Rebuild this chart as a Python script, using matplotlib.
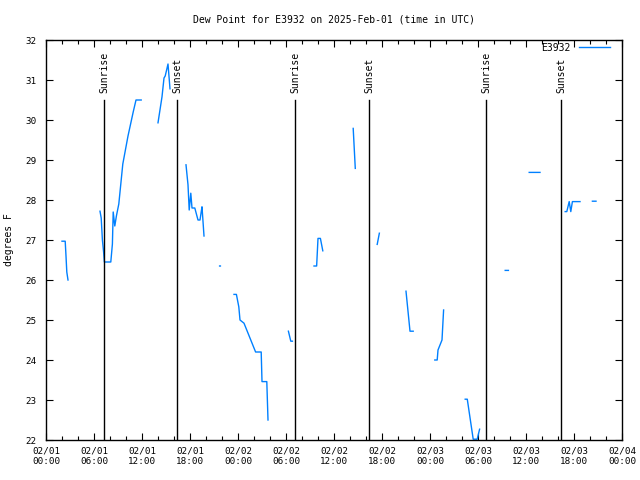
import numpy as np
import pandas as pd
import matplotlib
matplotlib.use("Agg")
import matplotlib.pyplot as plt
import matplotlib.dates as mdates

nan = np.nan
# hours since 2025-02-01 00:00 UTC; NaN separates gaps
hours = [2.0, 2.4, 2.5, 2.6, 2.75, nan,
         6.75, 6.9, 7.05, 7.2, 7.3, 8.1, 8.3, 8.4, 8.6, 8.8, 9.1, 9.6, 10.25, 10.9, 11.25, 11.9, nan,
         14.0, 14.5, 14.75, 14.9, 15.1, 15.25, 15.5, nan,
         17.5, 17.75, 17.9, 18.1, 18.25, 18.6, 19.0, 19.25, 19.4, 19.5, 19.75, nan,
         21.7, 21.8, nan,
         23.5, 23.8, 24.1, 24.25, 24.75, 26.2, 26.9, 27.0, 27.6, 27.75, nan,
         30.3, 30.6, 30.8, nan,
         33.5, 33.83, 34.0, 34.3, 34.6, nan,
         38.4, 38.66, nan,
         41.4, 41.67, nan,
         45.0, 45.5, 45.9, nan,
         48.6, 48.9, 49.0, 49.5, 49.7, nan,
         52.4, 52.66, 53.4, 53.9, 54.2, nan,
         57.4, 57.8, nan,
         60.4, 61.75, nan,
         64.9, 65.1, 65.4, 65.6, 65.8, 66.75, nan,
         68.3, 68.75]
dewpt = [26.97, 26.97, 26.6, 26.2, 26.0, nan,
         27.72, 27.55, 27.0, 26.7, 26.45, 26.45, 26.9, 27.7, 27.35, 27.6, 27.9, 28.9, 29.6, 30.2, 30.5, 30.5, nan,
         29.93, 30.58, 31.05, 31.1, 31.27, 31.4, 30.78, nan,
         28.88, 28.38, 27.75, 28.17, 27.8, 27.8, 27.5, 27.5, 27.7, 27.83, 27.1, nan,
         26.35, 26.35, nan,
         25.64, 25.64, 25.33, 25.0, 24.92, 24.2, 24.2, 23.46, 23.46, 22.5, nan,
         24.72, 24.47, 24.47, nan,
         26.35, 26.35, 27.04, 27.04, 26.73, nan,
         29.79, 28.79, nan,
         26.89, 27.17, nan,
         25.72, 24.72, 24.72, nan,
         24.0, 24.0, 24.25, 24.5, 25.25, nan,
         23.02, 23.02, 22.02, 22.02, 22.27, nan,
         26.24, 26.24, nan,
         28.69, 28.69, nan,
         27.71, 27.71, 27.96, 27.71, 27.96, 27.96, nan,
         27.97, 27.97]
sun_hours = [7.28, 16.42, 31.17, 40.42, 55.05, 64.42]
sun_labels = ["Sunrise", "Sunset", "Sunrise", "Sunset", "Sunrise", "Sunset"]

base = pd.Timestamp("2025-02-01 00:00")
x = pd.to_datetime(pd.Series([base + pd.Timedelta(hours=h) if not np.isnan(h) else pd.NaT
                              for h in hours]))
y = np.array(dewpt, dtype=float)

mono = "DejaVu Sans Mono"
fig = plt.figure(figsize=(6.4, 4.8), dpi=100)
ax = fig.add_axes([46/640, 1-440/480, 576/640, 400/480])

ax.plot(x, y, color="#0080ff", lw=1.0, label="E3932")

for h, lab in zip(sun_hours, sun_labels):
    t = base + pd.Timedelta(hours=h)
    ax.plot([t, t], [22, 30.5], color="black", lw=1.0)
    ax.text(t, 30.68, lab, rotation=90, ha="center", va="bottom", fontsize=7, family=mono)

ax.set_xlim(base, base + pd.Timedelta(hours=72))
ax.set_ylim(22, 32)
ax.set_yticks(np.arange(22, 33, 1))
ax.xaxis.set_major_locator(mdates.HourLocator(byhour=[0, 6, 12, 18]))
ax.xaxis.set_minor_locator(mdates.HourLocator(byhour=range(0, 24, 2)))
ax.xaxis.set_major_formatter(mdates.DateFormatter("%m/%d\n%H:%M"))
ax.tick_params(which="both", direction="in", top=True, right=True, labelsize=6.7)
ax.tick_params(which="major", length=5, width=0.8)
ax.tick_params(which="minor", length=3, width=0.8)
ax.tick_params(axis="y", pad=7)
ax.tick_params(axis="x", pad=5)
for lab in ax.get_xticklabels() + ax.get_yticklabels():
    lab.set_family(mono)
for s in ax.spines.values():
    s.set_linewidth(1.0)

ax.set_ylabel("degrees F", fontsize=7, family=mono, labelpad=8)
fig.text(334/640, 1-19/480, "Dew Point for E3932 on 2025-Feb-01 (time in UTC)",
         ha="center", va="center", fontsize=7, family=mono)
leg = ax.legend(loc="upper right", frameon=False, markerfirst=False, handlelength=3.2,
                prop={"family": mono, "size": 7}, bbox_to_anchor=(0.989, 1.008),
                handletextpad=0.8, borderaxespad=0.2)

fig.savefig("out.png", dpi=100)
